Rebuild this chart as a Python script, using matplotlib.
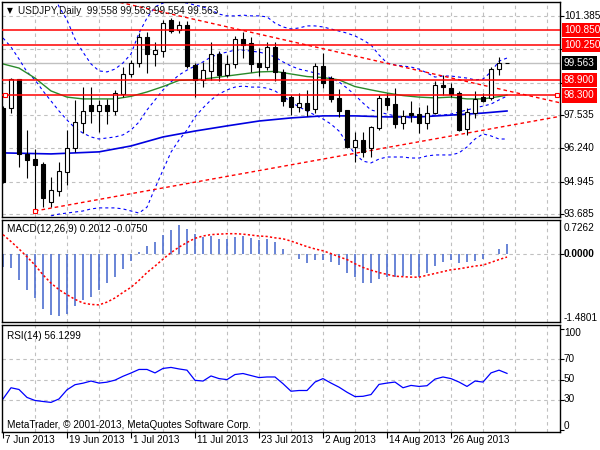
import numpy as np
import matplotlib
matplotlib.use("Agg")
import matplotlib.pyplot as plt
from matplotlib import transforms

W, H = 600, 450
plt.rcParams['font.family'] = ['Liberation Sans', 'DejaVu Sans']
plt.rcParams['font.size'] = 7.2
plt.rcParams['lines.scale_dashes'] = False

# ---- daily candles, bar 0 = 7 Jun 2013 ----
opens = [97.81, 97.81, 98.93, 96.02, 95.82, 95.63, 94.15, 94.58,
         95.32, 96.25, 97.22, 97.92, 97.69, 97.92, 97.69, 98.35,
         99.13, 99.56, 100.57, 99.91, 100.02, 101.23, 100.84, 101.04,
         99.48, 98.90, 99.25, 99.91, 99.09, 99.52, 100.49, 100.34,
         99.56, 99.40, 100.18, 99.21, 98.23, 97.85, 98.00, 97.77,
         99.44, 98.97, 98.20, 97.73, 96.29, 96.56, 96.25, 97.03,
         98.20, 97.96, 97.22, 97.61, 97.57, 97.22, 97.61, 98.70,
         98.58, 98.39, 96.99, 97.61, 98.23, 98.20, 99.32, 99.558]
highs = [97.90, 98.97, 98.95, 96.95, 96.21, 95.70, 95.12, 95.71,
         96.95, 98.12, 98.62, 98.62, 98.12, 98.16, 98.51, 99.40,
         99.67, 100.72, 100.76, 100.37, 101.23, 101.30, 101.19, 101.19,
         99.56, 99.60, 100.37, 100.02, 99.87, 100.61, 100.76, 100.57,
         100.14, 100.37, 100.37, 99.32, 98.30, 98.39, 98.51, 99.56,
         99.95, 99.05, 98.55, 97.73, 96.87, 96.87, 97.10, 98.31,
         98.39, 98.58, 97.73, 98.08, 97.85, 97.92, 98.86, 99.09,
         98.78, 98.47, 97.81, 98.47, 98.39, 99.40, 99.79, 99.563]
lows = [94.90, 97.61, 95.51, 95.08, 93.80, 93.96, 93.96, 94.38,
        94.81, 96.09, 96.83, 97.22, 96.87, 97.18, 97.53, 98.23,
        99.01, 99.40, 99.17, 99.44, 99.79, 100.72, 100.72, 99.36,
        98.23, 98.62, 98.90, 98.86, 99.01, 99.36, 99.75, 99.21,
        99.05, 99.28, 98.86, 97.88, 97.53, 97.65, 97.49, 97.61,
        98.58, 98.04, 97.46, 96.25, 95.71, 95.90, 95.90, 96.95,
        97.73, 97.03, 96.99, 97.26, 96.83, 96.99, 97.57, 98.31,
        98.23, 96.91, 96.76, 97.42, 98.04, 98.12, 99.09, 99.554]
closes = [94.93, 98.93, 96.02, 95.78, 95.59, 94.31, 94.62, 95.35,
          96.25, 97.26, 97.69, 97.69, 97.92, 97.69, 98.39, 99.13,
          99.56, 100.57, 99.91, 100.06, 101.11, 100.80, 101.04, 99.44,
          98.90, 99.28, 99.91, 99.09, 99.52, 100.49, 100.26, 99.52,
          99.40, 100.18, 99.21, 98.08, 97.85, 98.00, 97.73, 99.44,
          98.78, 98.16, 97.69, 96.29, 96.56, 96.10, 97.07, 98.20,
          97.92, 97.18, 97.49, 97.53, 97.22, 97.61, 98.70, 98.62,
          98.35, 96.95, 97.65, 98.16, 98.08, 99.32, 99.55, 99.563]

# ---- moving averages ----
ma_slow_bars = [0, 6, 12, 16, 20, 24, 28, 32, 36, 40, 44, 48, 52, 56, 60, 63]
ma_slow = [96.06, 96.02, 96.10, 96.33, 96.68, 96.91, 97.11, 97.30,
           97.42, 97.50, 97.50, 97.46, 97.46, 97.53, 97.61, 97.69]
ma_fast_bars = list(range(0, 63, 2)) + [63]
ma_fast = [99.52, 99.36, 98.97, 98.47, 98.23, 98.16, 98.16, 98.16,
           98.26, 98.43, 98.64, 98.88, 98.90, 98.97, 99.05, 99.13,
           99.21, 99.23, 99.13, 99.03, 98.99, 98.90, 98.64, 98.51,
           98.39, 98.29, 98.23, 98.20, 98.23, 98.16, 98.16, 98.25, 98.31]

# ---- bollinger bands ----
bb_up_start = 6
bb_up = [102.50, 101.75, 101.23, 100.49, 99.98, 99.52, 99.25, 99.21, 99.32, 99.56,
         99.91, 100.72, 101.31, 101.74, 101.89, 101.97, 101.93, 101.89, 101.81, 101.74,
         101.62, 101.46, 101.39, 101.39, 101.42, 101.39, 101.39, 101.35, 101.11, 100.96,
         100.88, 100.92, 101.00, 101.00, 100.96, 100.88, 100.80, 100.72, 100.61, 100.45,
         100.26, 99.87, 99.56, 99.48, 99.44, 99.40, 99.32, 99.17, 99.01, 99.05,
         99.05, 99.01, 98.97, 98.90, 98.93, 99.21, 99.63, 99.75]
bb_mid = [100.53, 100.18, 99.71, 99.21, 98.90, 98.47, 98.08, 97.69, 97.34, 97.03,
          96.83, 96.68, 96.60, 96.64, 96.68, 96.76, 96.95, 97.26, 97.73, 98.12,
          98.51, 98.82, 99.09, 99.28, 99.44, 99.60, 99.79, 99.91, 99.98, 100.06,
          100.06, 100.02, 99.98, 99.91, 99.79, 99.60, 99.44, 99.32, 99.25, 99.17,
          99.09, 98.97, 98.82, 98.58, 98.31, 98.00, 97.73, 97.65, 97.57, 97.50,
          97.46, 97.42, 97.46, 97.50, 97.53, 97.53, 97.57, 97.65, 97.73, 97.81,
          97.88, 97.96, 98.12, 98.27]
bb_low_start = 5
bb_low = [93.25, 93.61, 93.68, 93.72, 93.76, 93.80, 93.88, 93.92, 93.92, 93.92,
          93.88, 93.80, 93.72, 93.95, 94.69, 95.39, 96.09, 96.56, 96.95, 97.46,
          97.81, 98.12, 98.35, 98.51, 98.62, 98.66, 98.62, 98.62, 98.58, 98.47,
          98.27, 98.04, 97.85, 97.69, 97.53, 97.38, 97.18, 96.91, 96.44, 96.02,
          95.74, 95.67, 95.82, 95.90, 95.90, 95.90, 95.86, 95.86, 95.94, 95.98,
          95.98, 95.98, 96.06, 96.29, 96.60, 96.80, 96.72, 96.60, 96.60]

# ---- chart objects ----
levels = [100.850, 100.250, 98.900, 98.300]
last_price = 99.563
trend_hi = [(13, 102.03), (63, 98.48)]
trend_lo = [(4, 93.80), (63, 97.11)]
level_anchor_bars = [0.3, 69.3]

price_ticks = [101.385, 100.090, 98.795, 97.535, 96.240, 94.945, 93.685]
price_labels = ["101.385", "100.090", "", "97.535", "96.240", "94.945", "93.685"]

# ---- MACD(12,26,9) ----
macd_main = [-0.29, -0.32, -0.57, -0.79, -0.96, -1.19, -1.32, -1.36,
             -1.30, -1.14, -1.00, -0.93, -0.79, -0.64, -0.50, -0.34,
             -0.16, 0.04, 0.16, 0.25, 0.41, 0.51, 0.61, 0.54,
             0.43, 0.36, 0.37, 0.32, 0.32, 0.36, 0.37, 0.34,
             0.30, 0.32, 0.24, 0.09, -0.01, -0.11, -0.21, -0.14,
             -0.14, -0.19, -0.25, -0.43, -0.50, -0.63, -0.64, -0.54,
             -0.50, -0.50, -0.48, -0.46, -0.50, -0.43, -0.27, -0.19,
             -0.14, -0.21, -0.19, -0.16, -0.11, -0.02, 0.09, 0.2012]
macd_signal = [0.41, 0.26, 0.10, -0.07, -0.25, -0.46, -0.64, -0.78,
               -0.89, -0.99, -1.07, -1.10, -1.11, -1.05, -0.96, -0.84,
               -0.73, -0.58, -0.41, -0.27, -0.12, 0.02, 0.14, 0.24,
               0.33, 0.38, 0.41, 0.42, 0.43, 0.43, 0.42, 0.40,
               0.38, 0.37, 0.34, 0.32, 0.27, 0.21, 0.15, 0.10,
               0.06, 0.00, -0.07, -0.13, -0.22, -0.30, -0.36, -0.41,
               -0.45, -0.49, -0.50, -0.51, -0.51, -0.47, -0.43, -0.39,
               -0.35, -0.33, -0.30, -0.27, -0.25, -0.19, -0.13, -0.075]

# ---- RSI(14) ----
rsi = [31.0, 42.0, 40.3, 32.5, 29.5, 28.5, 27.6, 31.0,
       40.0, 45.0, 46.5, 48.6, 46.6, 47.5, 49.5, 53.3,
       56.5, 60.0, 60.0, 56.6, 61.0, 62.0, 60.5, 59.3,
       49.3, 48.6, 53.6, 51.0, 50.0, 55.0, 56.0, 54.0,
       52.0, 52.6, 52.6, 46.0, 38.6, 39.3, 39.3, 47.6,
       51.0, 46.6, 42.6, 37.6, 33.3, 33.6, 35.3, 45.3,
       46.6, 47.6, 42.0, 44.3, 43.3, 44.0, 50.5, 52.6,
       51.0, 47.6, 43.3, 48.6, 47.6, 56.6, 59.3, 56.13]

date_bars = [0, 8, 16, 24, 32, 40, 48, 56]
date_labels = ["7 Jun 2013", "19 Jun 2013", "1 Jul 2013", "11 Jul 2013",
               "23 Jul 2013", "2 Aug 2013", "14 Aug 2013", "26 Aug 2013"]

GRID = "#c0c0c0"
DASH_GRID = (0, (2.5, 2.5))
DASH_BB = (0, (2.2, 2.2))
DASH_RED = (0, (2.6, 2.2))

fig = plt.figure(figsize=(W / 100, H / 100), dpi=100)
fig.patch.set_facecolor("white")


def panel(top, bottom):
    return fig.add_axes([2 / W, 1 - bottom / H, 558 / W, (bottom - top) / H])


def ftext(x, y, s, **kw):
    return fig.text(x / W, 1 - y / H, s, va="center", **kw)


ax = panel(2, 217)
axm = panel(220, 322)
axr = panel(325, 432)

for a in (ax, axm, axr):
    a.set_xlim(-0.125, 69.625)
    a.set_xticks([])
    a.set_yticks([])
    for s in a.spines.values():
        s.set_color("black")
        s.set_linewidth(1.0)
    for b in range(4, 70, 4):
        a.axvline(b, color=GRID, lw=0.8, ls=DASH_GRID, zorder=0)

bars = np.arange(len(opens))
o, h, l, c = map(np.array, (opens, highs, lows, closes))

# ---- main chart ----
ax.set_ylim(93.566, 101.93)
for p in price_ticks:
    ax.axhline(p, color=GRID, lw=0.8, ls=DASH_GRID, zorder=0)
ax.axhline(last_price, color=GRID, lw=1.0, zorder=1)

ax.plot(np.arange(bb_up_start, bb_up_start + len(bb_up)), bb_up,
        color="#0000ff", lw=0.8, ls=DASH_BB, zorder=2)
ax.plot(np.arange(len(bb_mid)), bb_mid, color="#0000ff", lw=0.8, ls=DASH_BB, zorder=2)
ax.plot(np.arange(bb_low_start, bb_low_start + len(bb_low)), bb_low,
        color="#0000ff", lw=0.8, ls=DASH_BB, zorder=2)
ax.plot(ma_slow_bars, ma_slow, color="#0000e0", lw=1.2, zorder=2)
ax.plot(ma_fast_bars, ma_fast, color="#2a8a2a", lw=1.0, zorder=2)

x_right = ax.get_xlim()[1]
for (b0, p0), (b1, p1) in (trend_hi, trend_lo):
    slope = (p1 - p0) / (b1 - b0)
    ax.plot([b0, x_right], [p0, p0 + slope * (x_right - b0)],
            color="red", lw=1.0, ls=DASH_RED, zorder=2)
ax.plot(trend_lo[0][0], trend_lo[0][1], marker="s", ms=3.2, mfc="white",
        mec="red", mew=0.8, zorder=6, clip_on=False)

ax.vlines(bars, l, h, color="black", lw=0.8, zorder=3)
up = c >= o
ax.bar(bars, np.abs(c - o), bottom=np.minimum(o, c), width=0.6,
       color=np.where(up, "white", "black"), edgecolor="black",
       linewidth=0.8, zorder=4)

for lv in levels:
    ax.axhline(lv, color="red", lw=1.1, zorder=5)
ax.plot(level_anchor_bars, [levels[-1]] * 2, ls="none", marker="s", ms=3.2,
        mfc="white", mec="red", mew=0.8, zorder=6, clip_on=False)

tr = transforms.blended_transform_factory(fig.transFigure, ax.transData)
ax.yaxis.tick_right()
ax.set_yticks(price_ticks)
ax.tick_params(axis="y", length=3, width=0.8, labelright=False, labelleft=False)
for p, s in zip(price_ticks, price_labels):
    ax.text(564 / W, p, s, transform=tr, va="center", ha="left", clip_on=False)
for lv in levels:
    ax.text(564 / W, lv, f"{lv:.3f}", transform=tr, va="center", ha="left",
            color="white", clip_on=False, zorder=10,
            bbox=dict(boxstyle="square,pad=0.22", fc="red", ec="none"))
ax.text(564 / W, last_price, f"{last_price:.3f}", transform=tr, va="center",
        ha="left", color="white", clip_on=False, zorder=10,
        bbox=dict(boxstyle="square,pad=0.22", fc="black", ec="none"))

ftext(10, 10.5, "\u25bc", ha="center", fontsize=5.5, family="DejaVu Sans")
ftext(18.5, 11, "USDJPY,Daily  99.558 99.563 99.554 99.563", ha="left", color="#101010")

# ---- MACD ----
axm.set_ylim(-1.4801, 0.7262)
axm.axhline(0, color=GRID, lw=0.8, ls=DASH_GRID, zorder=0)
axm.vlines(bars, 0, macd_main, color="#4f6fd0", lw=1.2, zorder=2)
axm.plot(bars, macd_signal, color="red", lw=1.1, ls=(0, (1.6, 1.6)), zorder=3)
axm.yaxis.tick_right()
axm.set_yticks([0])
axm.tick_params(axis="y", length=3, width=0.8, labelright=False, labelleft=False)
ftext(7, 229, "MACD(12,26,9) 0.2012 -0.0750", ha="left")
ftext(564, 228, "0.7262", ha="left")
ftext(564, 254, "0.0000", ha="left", fontweight="bold")
ftext(564, 318, "-1.4801", ha="left")

# ---- RSI ----
axr.set_ylim(-1.5, 103.7)
for lv in (30, 50, 70):
    axr.axhline(lv, color=GRID, lw=0.8, ls=DASH_GRID, zorder=0)
axr.plot(bars, rsi, color="#0000ff", lw=0.9, zorder=2)
axr.yaxis.tick_right()
axr.set_yticks([0, 30, 50, 70, 100])
axr.tick_params(axis="y", length=3, width=0.8, labelright=False, labelleft=False)
ftext(7, 336, "RSI(14) 56.1299", ha="left")
ftext(7, 425, "MetaTrader, \u00a9 2001-2013, MetaQuotes Software Corp.", ha="left")
for y, s in ((333, "100"), (359, "70"), (379, "50"), (399, "30"), (426, "0")):
    ftext(564, y, s, ha="left")

axr.set_xticks(date_bars)
axr.tick_params(axis="x", length=4, width=0.8, direction="out", labelbottom=False)
trd = transforms.blended_transform_factory(axr.transData, fig.transFigure)
for b, s in zip(date_bars, date_labels):
    axr.text(b + 0.25, 1 - 440 / H, s, transform=trd, ha="left", va="center",
             clip_on=False)

fig.savefig("out.png", dpi=100, facecolor="white")
